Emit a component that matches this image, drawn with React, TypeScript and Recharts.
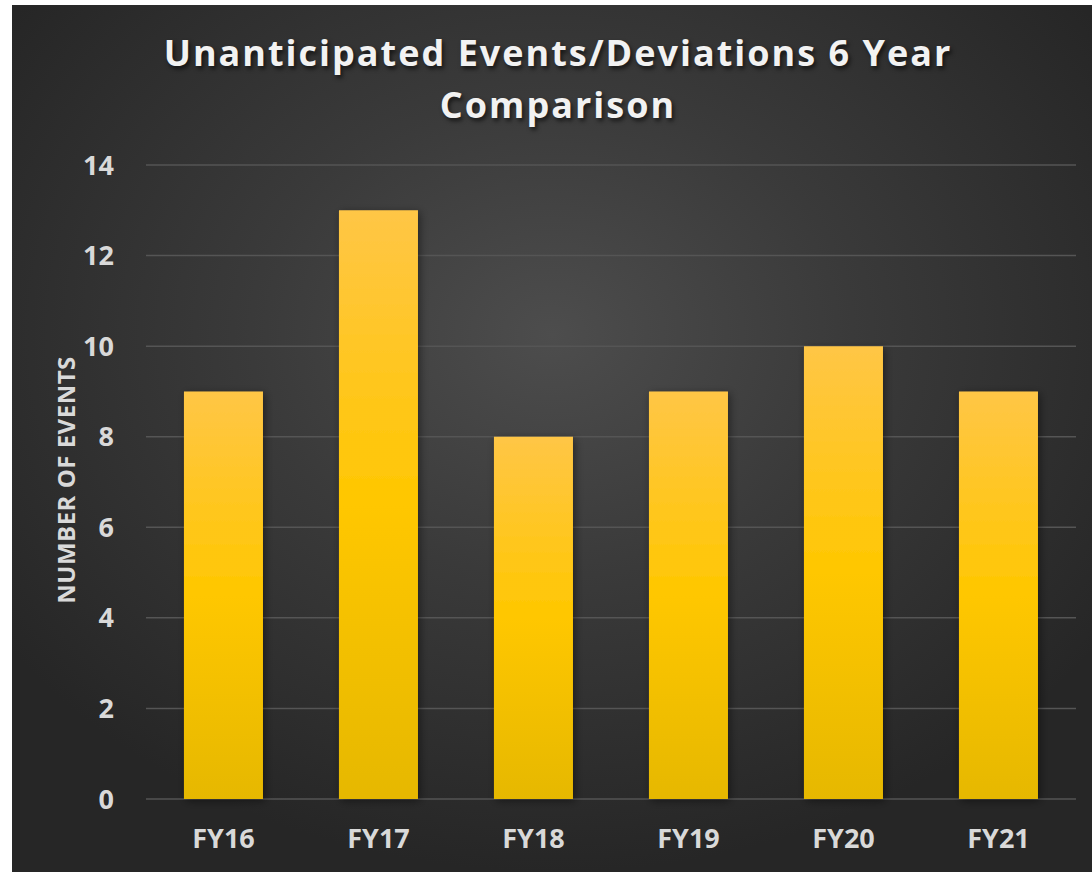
import React from "react";
import { BarChart, Bar, XAxis, YAxis, CartesianGrid } from "recharts";

// ─── Data ─────────────────────────────────────────────────────────────────────
const YEARS = ["FY16", "FY17", "FY18", "FY19", "FY20", "FY21"];
const EVENTS = [9, 13, 8, 9, 10, 9];
const Y_TICKS = [0, 2, 4, 6, 8, 10, 12, 14];

const data = YEARS.map((year, i) => ({ year, events: EVENTS[i] }));

const FONT = "'Open Sans', 'Noto Sans', sans-serif";
const TICK = { fontSize: 27, fontWeight: 700, fill: "#d9d9d9", fontFamily: FONT };

export default function App() {
  return (
    <div
      style={{
        position: "absolute",
        left: 0,
        top: 0,
        width: 1092,
        height: 872,
        background: "#fff",
        overflow: "hidden",
      }}
    >
      <div
        style={{
          position: "absolute",
          left: 12,
          top: 5,
          width: 1080,
          height: 867,
          background:
            "radial-gradient(ellipse 62% 62% at 50% 38%, #4d4d4d 0%, #3a3a3a 45%, #262626 100%)",
        }}
      >
        {/* Title */}
        <div
          style={{
            position: "absolute",
            left: 0,
            top: 22,
            width: 1092,
            textAlign: "center",
            color: "#f2f2f2",
            fontFamily: FONT,
            fontWeight: 700,
            fontSize: 36,
            lineHeight: "52px",
            letterSpacing: 2,
            textShadow: "2px 3px 4px rgba(0,0,0,0.6)",
          }}
        >
          Unanticipated Events/Deviations 6 Year
          <br />
          Comparison
        </div>

        {/* Y axis title */}
        <div
          style={{
            position: "absolute",
            left: 53,
            top: 475,
            transform: "translate(-50%, -50%) rotate(-90deg)",
            whiteSpace: "nowrap",
            color: "#d9d9d9",
            fontFamily: FONT,
            fontWeight: 700,
            fontSize: 24,
            letterSpacing: 0.5,
          }}
        >
          NUMBER OF EVENTS
        </div>

        <BarChart
          width={1080}
          height={867}
          data={data}
          margin={{ top: 160, right: 16, bottom: 0, left: 0 }}
          barCategoryGap="24.5%"
          style={{ position: "absolute", left: 0, top: 0 }}
        >
          <defs>
            <linearGradient id="barFill" x1="0" y1="0" x2="0" y2="1">
              <stop offset="0%" stopColor="#ffc646" />
              <stop offset="50%" stopColor="#ffc700" />
              <stop offset="100%" stopColor="#e6b800" />
            </linearGradient>
            <filter id="barShadow" x="-20%" y="-10%" width="140%" height="120%">
              <feDropShadow dx="2" dy="2" stdDeviation="4" floodColor="#000" floodOpacity="0.45" />
            </filter>
          </defs>
          <CartesianGrid vertical={false} stroke="#555555" strokeWidth={1.5} />
          <XAxis
            dataKey="year"
            height={73}
            tick={TICK}
            tickLine={false}
            axisLine={false}
            tickMargin={24}
          />
          <YAxis
            width={134}
            domain={[0, 14]}
            ticks={Y_TICKS}
            interval={0}
            tick={TICK}
            tickLine={false}
            axisLine={false}
            tickMargin={26}
          />
          <Bar
            dataKey="events"
            fill="url(#barFill)"
            filter="url(#barShadow)"
            isAnimationActive={false}
          />
          {/* axis line drawn over bars */}
          <XAxis
            xAxisId="line"
            dataKey="year"
            height={0}
            tick={false}
            tickLine={false}
            axisLine={{ stroke: "#8c8c8c", strokeWidth: 2 }}
          />
        </BarChart>
      </div>
    </div>
  );
}
